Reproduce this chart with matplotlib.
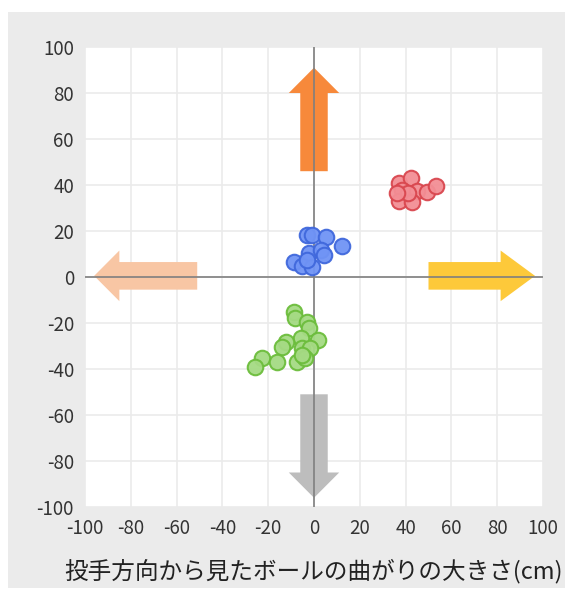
import matplotlib.pyplot as plt
from matplotlib.patches import Rectangle

plt.rcParams['font.family'] = ['Noto Sans CJK JP', 'DejaVu Sans']
plt.rcParams['axes.unicode_minus'] = False

# data
blue_x = [-3.2, -1, 5.2, 12.1, -2, 2.9, 4.4, -8.6, -5.4, -0.7, -3.2]
blue_y = [18.3, 18.3, 17.5, 13.6, 10.6, 11.7, 9.6, 6.4, 4.8, 4.5, 7.4]
red_x = [37.3, 42.2, 38.3, 45.1, 49.5, 53.1, 37.1, 42.7, 41.2, 36.4]
red_y = [41, 42.9, 37.8, 37.4, 37.1, 39.7, 33.2, 32.8, 36.4, 36.4]
green_x = [-8.7, -8.3, -3.2, -2, 1.9, -5.8, -12.2, -14.1, -5.4, -1.7,
           -22.8, -16.3, -25.8, -7.6, -3.9, -5.4]
green_y = [-15.4, -17.7, -19.7, -22.3, -27.4, -26.7, -28.1, -30.3, -31, -31,
           -35.4, -37.1, -39, -36.8, -35.4, -33.9]

ticks = list(range(-100, 101, 20))

# arrows: start x, start y, dx, dy, colour
arrows = [
    (0, 46, 0, 45, '#f7893b'),
    (50, 0.5, 46.5, 0, '#fdc93a'),
    (-51, 0.5, -45, 0, '#f8c6a4'),
    (0, -51, 0, -45, '#bdbdbd'),
]

fig = plt.figure(figsize=(5.75, 5.92), dpi=100)
fig.patch.set_facecolor('white')
fig.patches.append(Rectangle((8 / 575, 4 / 592), 557 / 575, 576 / 592,
                             transform=fig.transFigure, facecolor='#ebebeb',
                             edgecolor='none', zorder=-10))

ax = fig.add_axes([85 / 575, 85 / 592, 458 / 575, 460 / 592])
ax.set_facecolor('white')
ax.set_xlim(-100, 100)
ax.set_ylim(-100, 100)
ax.set_xticks(ticks)
ax.set_yticks(ticks)
ax.grid(color='#ebebeb', linewidth=1.2)
ax.set_axisbelow(True)
for s in ax.spines.values():
    s.set_visible(False)
ax.tick_params(length=0, labelsize=13.5, labelcolor='#333333', pad=8)

for x0, y0, dx, dy, c in arrows:
    hl = 15 if dx > 0 else 11
    ax.arrow(x0, y0, dx, dy, width=12, head_width=22, head_length=hl,
             length_includes_head=True, color=c, linewidth=0, zorder=2)

ax.axhline(0, color='#7f7f7f', linewidth=1.2, zorder=3)
ax.axvline(0, color='#7f7f7f', linewidth=1.2, zorder=3)

ax.scatter(blue_x, blue_y, s=125, facecolor='#7094f5', edgecolor='#4068dc',
           linewidth=1.5, alpha=0.95, zorder=4)
ax.scatter(red_x, red_y, s=125, facecolor='#f38e95', edgecolor='#d9474f',
           linewidth=1.5, alpha=0.95, zorder=4)
ax.scatter(green_x, green_y, s=125, facecolor='#a5da84', edgecolor='#6cbd3c',
           linewidth=1.5, alpha=0.95, zorder=4)

ax.set_xlabel('投手方向から見たボールの曲がりの大きさ(cm)', fontsize=17,
              color='#222222', labelpad=14)

plt.savefig('out.png', dpi=100)
